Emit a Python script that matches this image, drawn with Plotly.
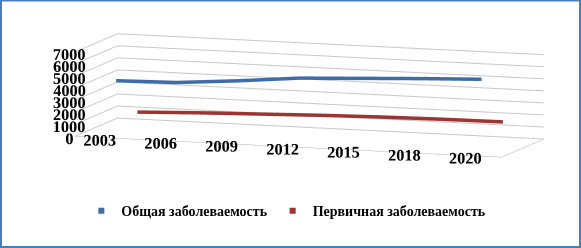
import plotly.graph_objects as go

years = ["2003", "2006", "2009", "2012", "2015", "2018", "2020"]
total = [4360, 4460, 4850, 5320, 5550, 5780, 5970]
primary = [1000, 1190, 1335, 1480, 1585, 1650, 1675]
series_names = ["Общая заболеваемость", "Первичная заболеваемость"]
colors = ["#3d6ca9", "#9b3432"]
depths = [0.25, 0.75]
zticks = [0, 1000, 2000, 3000, 4000, 5000, 6000, 7000]

xpos = [i + 0.5 for i in range(len(years))]
font_family = "Liberation Serif"

fig = go.Figure()
for vals, name, col, d in zip([total, primary], series_names, colors, depths):
    fig.add_trace(go.Scatter3d(
        x=xpos, y=[d] * len(xpos), z=vals, mode="lines",
        line=dict(color=col, width=7), name=name, showlegend=False,
        hoverinfo="skip"))
    fig.add_trace(go.Scatter(
        x=[None], y=[None], mode="markers", name=name,
        marker=dict(symbol="square", size=6, color=col)))

axis_common = dict(showbackground=False, zeroline=False, title="",
                   showspikes=False)
k = 3.0
fig.update_layout(
    width=581, height=248,
    margin=dict(l=0, r=0, t=0, b=0),
    paper_bgcolor="white", plot_bgcolor="white",
    xaxis=dict(visible=False), yaxis=dict(visible=False),
    scene=dict(
        domain=dict(x=[0.078, 0.988], y=[0.256, 0.976]),
        xaxis=dict(range=[0, 7], tickvals=xpos, ticktext=years, tickangle=0,
                   showgrid=False, showline=True, linecolor="#b0b0b0",
                   ticks="", tickfont=dict(family=font_family, size=14, color="black", weight="bold"),
                   **axis_common),
        yaxis=dict(range=[0, 1], showticklabels=False, showgrid=False,
                   showline=True, linecolor="#b0b0b0", ticks="", **axis_common),
        zaxis=dict(range=[0, 7000], tickvals=zticks, showgrid=True, tickangle=0,
                   gridcolor="#c8c8c8", showline=False, ticks="",
                   tickfont=dict(family=font_family, size=14, color="black", weight="bold"),
                   **axis_common),
        aspectmode="manual",
        aspectratio=dict(x=5.03, y=1.48, z=0.952),
        camera=dict(eye=dict(x=0.338 * k, y=-1.0 * k, z=0.155 * k),
                    center=dict(x=0, y=0, z=0), up=dict(x=0, y=0, z=1),
                    projection=dict(type="orthographic")),
    ),
    showlegend=True,
    legend=dict(orientation="h", x=0.14, y=0.149, yanchor="middle",
                font=dict(family=font_family, size=14, color="black", weight="bold"),
                bgcolor="rgba(0,0,0,0)"),
    shapes=[dict(type="rect", xref="paper", yref="paper",
                 x0=1 / 581, y0=1 / 248, x1=580 / 581, y1=1 - 0.5 / 248,
                 line=dict(color="#4a7ebb", width=2))],
)
fig.write_html("out.html", config={"displayModeBar": False},
               post_script="document.body.style.margin='0';")
